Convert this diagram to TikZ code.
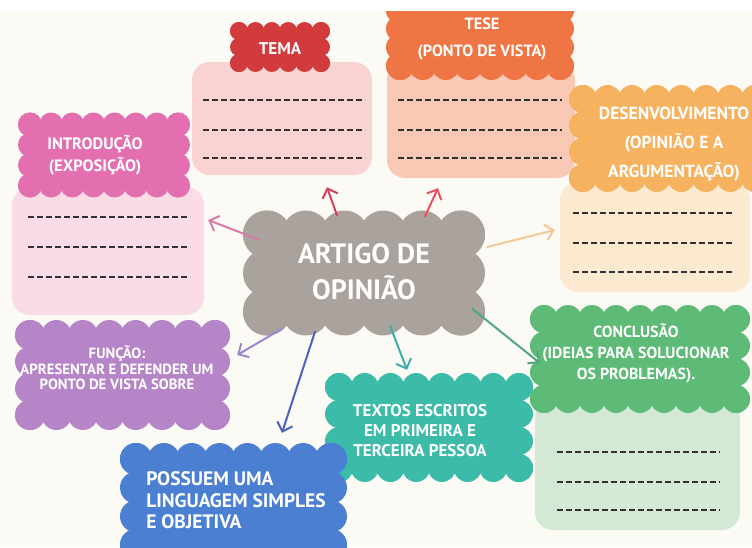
\documentclass[tikz,border=0pt]{standalone}
\usepackage{fontspec}
\setmainfont{PT Sans}
\usetikzlibrary{calc,arrows.meta}
\definecolor{bgc}{HTML}{FCFAF5}
\definecolor{temac}{HTML}{D23B3E}
\definecolor{temab}{HTML}{F9D2D2}
\definecolor{tesec}{HTML}{F07544}
\definecolor{teseb}{HTML}{F9C9B5}
\definecolor{desc}{HTML}{F6B25F}
\definecolor{desb}{HTML}{FCEAD0}
\definecolor{introc}{HTML}{E46FB0}
\definecolor{introb}{HTML}{F9DCE5}
\definecolor{centc}{HTML}{A9A29D}
\definecolor{func}{HTML}{B585C8}
\definecolor{textc}{HTML}{3CBBA9}
\definecolor{posc}{HTML}{4B7FD1}
\definecolor{concc}{HTML}{5EBB77}
\definecolor{concb}{HTML}{D3E9D5}
\definecolor{dashc}{HTML}{333030}
\definecolor{a1}{HTML}{D6405A}
\definecolor{a2}{HTML}{E8505A}
\definecolor{a3}{HTML}{D77AA5}
\definecolor{a4}{HTML}{F3C896}
\definecolor{a5}{HTML}{9D87CF}
\definecolor{a6}{HTML}{4A63C0}
\definecolor{a7}{HTML}{3AAFAA}
\definecolor{a8}{HTML}{4FA880}
\tikzset{
  core/.style={fill=#1, draw=none, inner sep=0pt, shape=rectangle},
  ctext/.style={text=white, align=center, inner sep=0pt},
  abox/.style={fill=#1, draw=none, rounded corners=18pt, inner sep=0pt},
  dline/.style={draw=dashc, line width=2pt, dash pattern=on 5.5pt off 3.5pt},
  arr/.style={draw=#1, line width=2pt, line cap=round,
    -{Straight Barb[length=8pt,width=16pt,line width=2pt]}},
}
% #1 name, #2 colour, #3 cx, #4 cy, #5 w, #6 h, #7 nx, #8 ny, #9 r
\newcommand\mycloud[9]{%
  \foreach \i in {0,...,#7}{
    \pgfmathsetmacro\px{#3-#5/2+\i*#5/#7}
    \fill[#2] (\px,{#4-#6/2}) circle[radius=#9pt];
    \fill[#2] (\px,{#4+#6/2}) circle[radius=#9pt];}
  \foreach \j in {0,...,#8}{
    \pgfmathsetmacro\py{#4-#6/2+\j*#6/#8}
    \fill[#2] ({#3-#5/2},\py) circle[radius=#9pt];
    \fill[#2] ({#3+#5/2},\py) circle[radius=#9pt];}
  \node[core=#2, minimum width=#5pt, minimum height=#6pt] (#1) at (#3,#4) {};
  }
\newcommand\mydashes[3]{% x1, x2, y-list
  \foreach \yy in {#3}{\draw[dline] (#1,\yy) -- (#2,\yy);}}
\begin{document}
\begin{tikzpicture}[x=1pt,y=-1pt]
\useasboundingbox (0,0) rectangle (752,547);
\fill[bgc] (0,0) rectangle (752,547);
\node[abox=temab, minimum width=180pt, minimum height=113pt] (tb) at (282,118.5) {};
\node[abox=teseb, minimum width=188pt, minimum height=116pt] (sb) at (481,120) {};
\node[abox=desb, minimum width=190pt, minimum height=110pt] (db) at (655,237) {};
\node[abox=introb, minimum width=192pt, minimum height=128pt] (ib) at (108,251) {};
\node[abox=concb, minimum width=205pt, minimum height=130pt] (cb) at (637.5,465) {};
\mydashes{203}{365}{100,130,158}
\mydashes{398}{562}{100,130,158}
\mydashes{573}{733}{213,243,272}
\mydashes{28}{190}{217,247,277}
\mydashes{557}{720}{452,482,510}

% clouds
\mycloud{tema}{temac}{280}{47}{82}{32}{5}{2}{9}
\node[ctext, font=\bfseries\fontsize{17}{18}\selectfont] (tema-t) at (280,49) {TEMA};

\mycloud{tese}{tesec}{480}{38}{160}{56}{7}{3}{14}
\node[ctext, font=\bfseries\fontsize{16.3}{27}\selectfont] (tese-t) at (482,39) {TESE\\(PONTO DE VISTA)};

\mycloud{des}{desc}{669}{138.5}{172}{79}{7}{3}{14}
\node[ctext, font=\bfseries\fontsize{17.5}{29}\selectfont] (des-t) at (674,144) {DESENVOLVIMENTO\\(OPINIÃO E A\\ARGUMENTAÇÃO)};

\mycloud{intro}{introc}{104}{155}{148}{61}{7}{3}{12}
\node[ctext, font=\bfseries\fontsize{16.5}{22}\selectfont] (intro-t) at (95,155.5) {INTRODUÇÃO\\(EXPOSIÇÃO)};

\mycloud{c}{centc}{364}{273}{194}{77}{5}{2}{24}
\node[ctext, font=\bfseries\fontsize{28}{36}\selectfont] (c-t) at (364,272) {ARTIGO DE\\OPINIÃO};

\mycloud{fu}{func}{122.5}{375}{185}{80}{7}{3}{15}
\node[ctext, font=\bfseries\fontsize{14.8}{15.5}\selectfont] (fu-t) at (117,368) {FUNÇÃO:\\APRESENTAR E DEFENDER UM\\PONTO DE VISTA SOBRE};

\mycloud{tx}{textc}{429}{427.5}{180}{81}{7}{3}{14}
\node[ctext, font=\bfseries\fontsize{17}{20}\selectfont] (tx-t) at (420,431) {TEXTOS ESCRITOS\\EM PRIMEIRA E\\TERCEIRA PESSOA};

\mycloud{po}{posc}{233.5}{502}{195}{86}{7}{3}{16}
\node[ctext, align=left, font=\bfseries\fontsize{19.5}{21.5}\selectfont] (po-t) at (236,500.5) {POSSUEM UMA\\LINGUAGEM SIMPLES\\E OBJETIVA};

\mycloud{co}{concc}{640}{359}{192}{80}{8}{3}{14}
\node[ctext, font=\bfseries\fontsize{16}{21}\selectfont] (co-t) at (636,353) {CONCLUSÃO\\(IDEIAS PARA SOLUCIONAR\\OS PROBLEMAS).};

% arrows
\draw[arr=a1] ($(c.north)+(-27,-19)$) -- ($(tb.south)+(45,12)$);
\draw[arr=a2] ($(c.north)+(61,-18)$) -- ($(sb.south)+(-43,10)$);
\draw[arr=a3] ($(c.west)+(-7,-33)$) -- ($(ib.east)+(4,-31)$);
\draw[arr=a4] ($(c.east)+(26,-26)$) -- ($(db.west)+(-5,-7)$);
\draw[arr=a5] ($(c.south)+(-82,17)$) -- ($(fu.east)+(22,-20)$);
\draw[arr=a6] ($(c.south)+(-49,20)$) -- ($(po.north)+(48.5,-26)$);
\draw[arr=a7] ($(c.south)+(26,14)$) -- ($(tx.north)+(-22,-17)$);
\draw[arr=a8] ($(c.south east)+(11,-3)$) -- ($(co.west)+(-4,4)$);

\fill[white] (0,0) rectangle (752,11);
\end{tikzpicture}
\end{document}
